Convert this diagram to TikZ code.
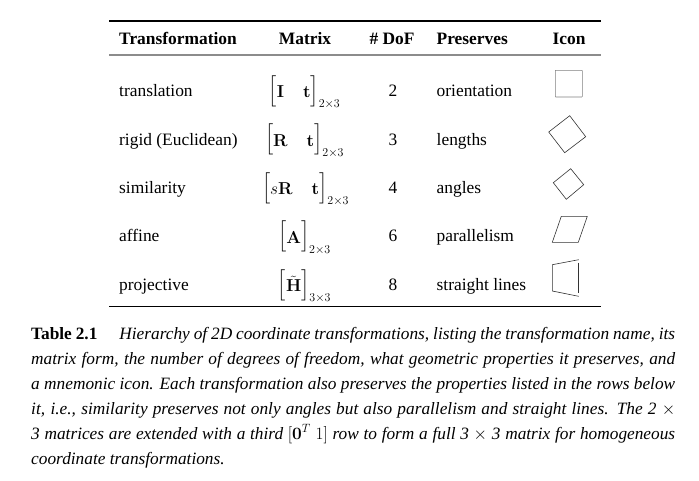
\documentclass[tikz,border=0pt]{standalone}
\usepackage{amsmath}
\usepackage[no-math]{fontspec}
\setmainfont{Liberation Serif}
\begin{document}
\begin{tikzpicture}[x=1pt,y=-1pt,
    cell/.style={inner sep=0pt,anchor=base west,font=\fontsize{17.4}{20}\selectfont},
    mid/.style={cell,anchor=base},
    mat/.style={cell,anchor=center,execute at begin node={\def\arraystretch{1.6}\setlength{\arraycolsep}{9.5pt}}},
    head/.style={cell,font=\fontsize{17.4}{20}\selectfont\bfseries},
    headmid/.style={head,anchor=base},
    capline/.style={inner sep=0pt,anchor=base west,font=\fontsize{17.3}{20}\selectfont\itshape},
    icon/.style={line width=0.6pt,black!80},
    toprule/.style={line width=2pt},
    midrule/.style={line width=2pt,black!45},
    botrule/.style={line width=1pt}]
  \useasboundingbox (0,0) rectangle (699,480);
  % rules
  \draw[toprule] (109,21) -- (601,21);
  \draw[midrule] (109,55) -- (601,55);
  \draw[botrule] (109,306.5) -- (601,306.5);
  % header
  \draw
    (119,44.5) node[head] (h0){Transformation}
    (305,44.5) node[headmid] (h1){Matrix}
    (392,44.5) node[headmid] (h2){\# DoF}
    (436.5,44.5) node[head] (h3){Preserves}
    (569,44.5) node[headmid] (h4){Icon};
  % names
  \draw
    (119,96) node[cell] (t0){translation}
    (119,145) node[cell] (t1){rigid (Euclidean)}
    (119,193) node[cell] (t2){similarity}
    (119,241) node[cell] (t3){affine}
    (119,290) node[cell] (t4){projective};
  % matrices
  \draw
    (304.5,92) node[mat] (m0){$\begin{bmatrix}\mathbf{I} & \mathbf{t}\end{bmatrix}_{2\times 3}$}
    (304.5,140.5) node[mat] (m1){$\begin{bmatrix}\mathbf{R} & \mathbf{t}\end{bmatrix}_{2\times 3}$}
    (305.5,189) node[mat] (m2){$\begin{bmatrix}s\mathbf{R} & \mathbf{t}\end{bmatrix}_{2\times 3}$}
    (304.5,237.5) node[mat] (m3){$\begin{bmatrix}\mathbf{A}\end{bmatrix}_{2\times 3}$}
    (304.5,286) node[mat] (m4){$\begin{bmatrix}\tilde{\mathbf{H}}\end{bmatrix}_{3\times 3}$};
  % dof
  \draw
    (393,96) node[mid] (d0){2}
    (393,145) node[mid] (d1){3}
    (393,193) node[mid] (d2){4}
    (393,241) node[mid] (d3){6}
    (393,290) node[mid] (d4){8};
  % preserves
  \draw
    (436.5,96) node[cell] (p0){orientation}
    (436.5,145) node[cell] (p1){lengths}
    (436.5,193) node[cell] (p2){angles}
    (436.5,241) node[cell] (p3){parallelism}
    (436.5,290) node[cell] (p4){straight lines};
  % icons
  \draw[icon,black!50,rounded corners=0.5pt] (555.3,70.3) rectangle (582.3,97);
  \draw[icon] (569.7,115.7) -- (585.7,136.7) -- (564.7,152.7) -- (548.7,132) -- cycle;
  \draw[icon] (570.7,168.7) -- (583.7,184.7) -- (566.3,199.3) -- (553.3,182.7) -- cycle;
  \draw[icon] (561.3,216.3) -- (587.3,216.3) -- (578.3,242.3) -- (552.3,242.3) -- cycle;
  \draw[icon] (578.7,259.7) -- (552.3,264.7) -- (552.3,291) -- (578.7,296.3);
  \draw[icon] (578.3,262.7) -- (578.3,292.7);
  % caption
  \draw
    (31,339) node[capline] (c0){\makebox[644pt][s]{\textbf{\upshape Table 2.1}\hspace{22pt}Hierarchy of 2D coordinate transformations, listing the transformation name, its}}
    (31,364) node[capline] (c1){\makebox[644pt][s]{matrix form, the number of degrees of freedom, what geometric properties it preserves, and}}
    (31,389) node[capline] (c2){\makebox[644pt][s]{a mnemonic icon. Each transformation also preserves the properties listed in the rows below}}
    (31,414.5) node[capline] (c3){\makebox[644pt][s]{it, i.e., similarity preserves not only angles but also parallelism and straight lines. The 2 $\times$}}
    (31,439) node[capline] (c4){\makebox[644pt][s]{3 matrices are extended with a third $[\mathbf{0}^{T}\ 1]$ row to form a full 3 $\times$ 3 matrix for homogeneous}}
    (31,464) node[capline] (c5){coordinate transformations.};
\end{tikzpicture}
\end{document}
